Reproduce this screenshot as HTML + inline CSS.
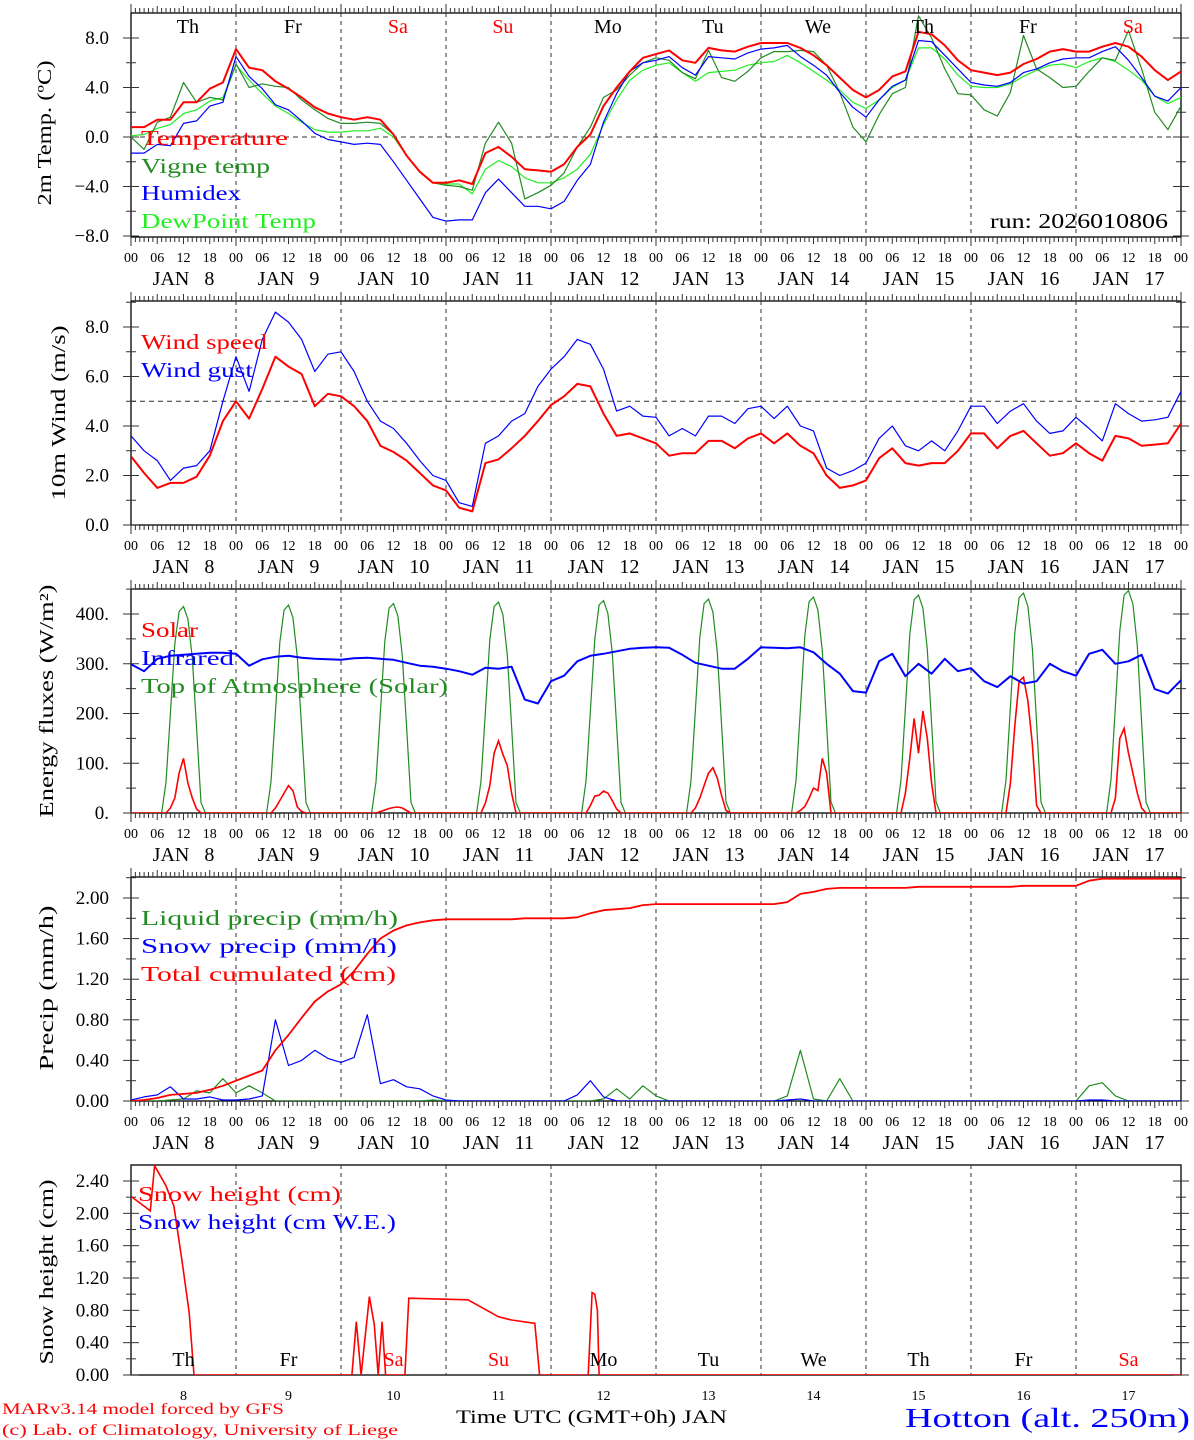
<!DOCTYPE html>
<html><head><meta charset="utf-8"><title>MAR forecast Hotton</title>
<style>
html,body{margin:0;padding:0;background:#fff;}
svg{display:block;font-family:"Liberation Serif",serif;}
</style></head>
<body>
<svg id="chart" xmlns="http://www.w3.org/2000/svg" width="1194" height="1440" viewBox="0 0 1194 1440">
<defs>
<clipPath id="c0"><rect x="131" y="13" width="1050" height="224"/></clipPath>
<clipPath id="c1"><rect x="131" y="301" width="1050" height="224"/></clipPath>
<clipPath id="c2"><rect x="131" y="589" width="1050" height="224"/></clipPath>
<clipPath id="c3"><rect x="131" y="877" width="1050" height="224"/></clipPath>
<clipPath id="c4"><rect x="131" y="1165" width="1050" height="210"/></clipPath>
</defs>
<g id="grid"></g>
<g id="series"></g>
<g id="labels">
<text x="141" y="145" fill="#ff0000" font-size="21" textLength="147" lengthAdjust="spacingAndGlyphs">Temperature</text>
<text x="141" y="173" fill="#228b22" font-size="21" textLength="129" lengthAdjust="spacingAndGlyphs">Vigne temp</text>
<text x="141" y="200" fill="#0000ff" font-size="21" textLength="100" lengthAdjust="spacingAndGlyphs">Humidex</text>
<text x="141" y="228" fill="#22ee22" font-size="21" textLength="175" lengthAdjust="spacingAndGlyphs">DewPoint Temp</text>
<text x="990" y="228" fill="#000" font-size="21" textLength="178" lengthAdjust="spacingAndGlyphs">run: 2026010806</text>
<text x="141" y="349" fill="#ff0000" font-size="21" textLength="126" lengthAdjust="spacingAndGlyphs">Wind speed</text>
<text x="141" y="377" fill="#0000ff" font-size="21" textLength="112" lengthAdjust="spacingAndGlyphs">Wind gust</text>
<text x="141" y="637" fill="#ff0000" font-size="21" textLength="57" lengthAdjust="spacingAndGlyphs">Solar</text>
<text x="141" y="665" fill="#0000ff" font-size="21" textLength="93" lengthAdjust="spacingAndGlyphs">Infrared</text>
<text x="141" y="693" fill="#228b22" font-size="21" textLength="307" lengthAdjust="spacingAndGlyphs">Top of Atmosphere (Solar)</text>
<text x="141" y="925" fill="#228b22" font-size="21" textLength="257" lengthAdjust="spacingAndGlyphs">Liquid precip (mm/h)</text>
<text x="141" y="953" fill="#0000ff" font-size="21" textLength="256" lengthAdjust="spacingAndGlyphs">Snow precip (mm/h)</text>
<text x="141" y="981" fill="#ff0000" font-size="21" textLength="255" lengthAdjust="spacingAndGlyphs">Total cumulated (cm)</text>
<text x="138" y="1201" fill="#ff0000" font-size="21" textLength="203" lengthAdjust="spacingAndGlyphs">Snow height (cm)</text>
<text x="138" y="1229" fill="#0000ff" font-size="21" textLength="258" lengthAdjust="spacingAndGlyphs">Snow height (cm W.E.)</text>
<text transform="translate(51,133) rotate(-90)" text-anchor="middle" font-size="20" fill="#000" textLength="145" lengthAdjust="spacingAndGlyphs">2m Temp. (ºC)</text>
<text transform="translate(65,413) rotate(-90)" text-anchor="middle" font-size="20" fill="#000" textLength="175" lengthAdjust="spacingAndGlyphs">10m Wind (m/s)</text>
<text transform="translate(53,701) rotate(-90)" text-anchor="middle" font-size="20" fill="#000" textLength="233" lengthAdjust="spacingAndGlyphs">Energy fluxes (W/m²)</text>
<text transform="translate(53,988) rotate(-90)" text-anchor="middle" font-size="20" fill="#000" textLength="165" lengthAdjust="spacingAndGlyphs">Precip (mm/h)</text>
<text transform="translate(53,1272) rotate(-90)" text-anchor="middle" font-size="20" fill="#000" textLength="185" lengthAdjust="spacingAndGlyphs">Snow height (cm)</text>
<text x="2" y="1414" fill="#ff0000" font-size="16" textLength="282" lengthAdjust="spacingAndGlyphs">MARv3.14 model forced by GFS</text>
<text x="2" y="1435" fill="#ff0000" font-size="16" textLength="396" lengthAdjust="spacingAndGlyphs">(c) Lab. of Climatology, University of Liege</text>
<text x="456" y="1423" fill="#000" font-size="19" textLength="271" lengthAdjust="spacingAndGlyphs">Time UTC (GMT+0h) JAN</text>
<text x="905" y="1427" fill="#0000ff" font-size="27" textLength="285" lengthAdjust="spacingAndGlyphs">Hotton (alt. 250m)</text>
</g>
</svg>
<script>
// ---- data (3-hourly from Jan 8 00 UTC, 81 points) ----
const dayNames = ["Th","Fr","Sa","Su","Mo","Tu","We","Th","Fr","Sa"];
const dayNums = ["8","9","10","11","12","13","14","15","16","17"];
const hourLabels = ["00","06","12","18"];
const tempVals = [0.8,0.8,1.4,1.4,2.8,2.8,3.9,4.4, 7.1,5.6,5.4,4.5,3.9,3.2,2.4,1.9, 1.6,1.4,1.6,1.4,0.2,-1.5,-2.8,-3.7, -3.7,-3.5,-3.8,-1.3,-0.8,-1.6,-2.6,-2.7, -2.8,-2.2,-0.8,0.2,2.5,4.0,5.3,6.4, 6.7,7.0,6.2,6.0,7.2,7.0,6.9,7.3, 7.6,7.6,7.6,7.2,6.6,5.8,4.8,3.8, 3.2,3.8,4.9,5.3,8.5,8.3,7.4,6.2, 5.4,5.2,5.0,5.2,5.9,6.3,6.9,7.1, 6.9,6.9,7.3,7.6,7.3,6.5,5.4,4.6, 5.3];
const vigneVals = [0.0,-1.0,1.2,1.6,4.4,2.8,3.2,3.0, 5.9,4.0,4.3,4.1,4.0,3.0,2.2,1.5, 1.1,1.1,1.2,1.1,0.2,-1.5,-2.8,-3.7, -3.9,-4.0,-4.3,-0.5,1.2,-0.5,-5.0,-4.5, -3.9,-2.9,-0.8,0.8,3.2,3.8,5.0,6.0, 6.4,6.2,5.2,4.7,7.0,4.8,4.5,5.3, 6.4,6.9,6.9,7.0,6.9,5.8,3.6,0.8, -0.4,1.8,3.5,4.0,9.8,8.0,5.5,3.5, 3.4,2.2,1.7,3.6,8.2,5.5,4.8,4.0, 4.1,5.3,6.4,6.2,8.6,5.5,2.0,0.6, 2.5];
const humidexVals = [-1.3,-1.3,-0.6,-0.7,1.1,1.3,2.5,2.8, 6.5,4.9,3.9,2.6,2.2,1.3,0.3,-0.2, -0.4,-0.6,-0.5,-0.6,-2.0,-3.5,-5.0,-6.5, -6.8,-6.7,-6.7,-4.5,-3.4,-4.5,-5.6,-5.6, -5.8,-5.2,-3.5,-2.2,1.2,3.5,5.3,6.0, 6.2,6.5,5.6,5.0,6.5,6.4,6.3,6.8, 7.1,7.2,7.4,6.5,5.8,5.0,3.6,2.4, 1.6,3.0,4.1,4.6,7.8,7.7,6.6,5.5, 4.4,4.2,4.1,4.4,5.2,5.5,6.0,6.3, 6.4,6.4,6.9,7.3,6.2,4.8,3.3,2.9, 4.0];
const dewVals = [0.1,0.2,0.7,1.0,1.9,2.2,2.9,3.2, 5.8,4.6,3.5,2.5,1.9,1.2,0.6,0.4, 0.4,0.5,0.5,0.7,0.0,-1.5,-2.8,-3.7, -3.8,-3.8,-4.6,-2.6,-1.9,-2.4,-3.3,-3.7, -3.7,-3.3,-2.6,-1.4,1.0,3.0,4.6,5.4, 5.8,6.0,5.2,4.5,5.2,5.3,5.4,5.8, 6.0,6.1,6.6,6.0,5.3,4.6,3.8,2.8, 2.3,3.0,4.0,4.6,7.2,7.2,6.3,5.0, 4.1,4.0,4.0,4.3,4.9,5.4,5.8,5.9, 5.6,6.1,6.4,6.1,5.4,4.6,3.3,2.7, 3.2];
const windVals = [2.77,2.1,1.5,1.7,1.7,1.95,2.8,4.2, 5.0,4.3,5.5,6.8,6.4,6.1,4.8,5.3, 5.2,4.8,4.2,3.2,2.95,2.6,2.1,1.6, 1.4,0.7,0.55,2.5,2.65,3.1,3.6,4.2, 4.85,5.2,5.7,5.6,4.5,3.6,3.7,3.5, 3.3,2.8,2.9,2.9,3.4,3.4,3.1,3.5, 3.7,3.3,3.7,3.2,2.9,2.0,1.5,1.6, 1.8,2.7,3.1,2.5,2.4,2.5,2.5,3.0, 3.7,3.7,3.1,3.6,3.8,3.3,2.8,2.9, 3.3,2.9,2.6,3.6,3.5,3.2,3.25,3.3, 4.1];
const gustVals = [3.6,3.0,2.6,1.8,2.3,2.4,3.0,5.0, 6.8,5.4,7.5,8.6,8.2,7.5,6.2,6.9, 7.0,6.2,5.0,4.2,3.9,3.3,2.6,2.0, 1.8,0.9,0.75,3.3,3.6,4.2,4.5,5.6, 6.3,6.8,7.5,7.3,6.3,4.6,4.8,4.4, 4.35,3.6,3.9,3.6,4.4,4.4,4.1,4.7, 4.8,4.3,4.8,4.0,3.8,2.3,2.0,2.2, 2.5,3.5,4.0,3.2,3.0,3.4,3.0,3.8, 4.8,4.8,4.1,4.6,4.9,4.2,3.7,3.8, 4.35,3.9,3.4,4.9,4.5,4.2,4.25,4.35, 5.4];
const infraredVals = [299,285,310,316,318,320,322,322, 320,296,309,314,316,312,310,309, 308,311,312,310,308,302,296,294, 290,285,278,292,290,294,228,220, 265,276,305,316,320,325,330,332, 333,332,318,302,296,290,290,310, 333,332,331,333,323,300,280,245, 242,305,320,275,300,280,310,285, 291,265,253,275,260,265,300,285, 276,320,328,300,305,318,249,240, 267];
// hourly daylight values, hours 7..17 of each day
const daylightHours = [7,8,9,10,11,12,13,14,15,16,17];
const solarByDay = [
 [0,0,10,30,80,110,60,30,8,0,0],
 [0,0,10,25,40,55,45,12,3,0,0],
 [0,0,3,6,9,11,12,10,5,0,0],
 [0,0,20,55,120,145,118,95,40,0,0],
 [0,0,15,34,36,44,40,25,8,0,0],
 [0,0,10,30,55,80,91,70,35,5,0],
 [0,0,5,13,30,50,45,110,80,0,0],
 [0,0,40,110,190,120,205,150,60,0,0],
 [0,0,60,175,265,273,225,140,15,0,0],
 [0,0,30,150,170,120,80,40,10,0,0]];
const toaByDay = [
 [0,62,200,340,405,415,390,312,170,21,0],
 [0,63,202,343,408,418,393,314,171,21,0],
 [0,63,203,345,412,421,396,316,173,21,0],
 [0,64,204,348,415,424,399,318,174,21,0],
 [0,64,206,350,418,427,401,321,175,21,0],
 [0,65,207,353,421,430,404,323,176,22,0],
 [0,65,209,356,425,434,408,326,178,22,0],
 [0,66,211,359,429,438,412,329,180,22,0],
 [0,66,213,362,433,442,415,332,181,22,0],
 [0,67,215,366,438,447,420,336,183,22,0]];
const liquidVals = [0,0,0,0.01,0.02,0.10,0.08,0.22, 0.08,0.15,0.08,0,0,0,0,0, 0,0,0,0,0,0,0,0.01, 0,0,0,0,0,0,0,0, 0,0,0,0,0.02,0.12,0.02,0.15, 0.05,0,0,0,0,0,0,0, 0,0,0.05,0.50,0.02,0,0.22,0, 0,0,0,0,0,0,0,0, 0,0,0,0,0,0,0,0, 0,0.15,0.18,0.05,0,0,0,0, 0];
const snowPrecipVals = [0.01,0.04,0.06,0.14,0.02,0.02,0.04,0.01, 0.01,0.02,0.05,0.80,0.35,0.40,0.50,0.42, 0.38,0.43,0.85,0.17,0.21,0.14,0.12,0.05, 0.01,0,0,0,0,0,0,0, 0,0,0.06,0.20,0.04,0,0,0, 0,0,0,0,0,0,0,0, 0,0,0.01,0.02,0,0,0,0, 0,0,0,0,0,0,0,0, 0,0,0,0,0,0,0,0, 0,0.01,0.01,0,0,0,0,0, 0];
const cumulVals = [0,0.01,0.03,0.06,0.07,0.08,0.11,0.15, 0.20,0.25,0.30,0.50,0.65,0.82,0.98,1.08, 1.15,1.28,1.45,1.60,1.68,1.73,1.76,1.78, 1.79,1.79,1.79,1.79,1.79,1.79,1.80,1.80, 1.80,1.80,1.81,1.85,1.88,1.89,1.90,1.93, 1.94,1.94,1.94,1.94,1.94,1.94,1.94,1.94, 1.94,1.94,1.96,2.04,2.06,2.09,2.10,2.10, 2.10,2.10,2.10,2.10,2.11,2.11,2.11,2.11, 2.11,2.11,2.11,2.11,2.12,2.12,2.12,2.12, 2.12,2.17,2.19,2.19,2.19,2.19,2.19,2.19, 2.19];
const snowHours = [0,3,4.4,5.4,8,9.8,11.6,13.3,14.4,50.5,51.5,52.6,54.5,55.6,56.5,57.4,58.2,62.6,63.5,77,84,87,92.3,93.4,104.5,105.4,106,106.6,107,240];
const snowHeightVals = [2.21,2.09,2.03,2.59,2.34,2.09,1.43,0.77,0,0,0.66,0,0.97,0.62,0,0.66,0,0,0.95,0.93,0.72,0.68,0.64,0,0,1.02,1.0,0.8,0,0];
const yTicks = [
 {vals:[8,4,0,-4,-8], labels:["8.0","4.0","0.0","\u22124.0","\u22128.0"], minor:[6,2,-2,-6]},
 {vals:[0,2,4,6,8], labels:["0.0","2.0","4.0","6.0","8.0"], minor:[1,3,5,7,9]},
 {vals:[0,100,200,300,400], labels:["0.","100.","200.","300.","400."], minor:[50,150,250,350,450]},
 {vals:[0,0.4,0.8,1.2,1.6,2.0], labels:["0.00","0.40","0.80","1.20","1.60","2.00"], minor:[0.2,0.6,1.0,1.4,1.8,2.2]},
 {vals:[0,0.4,0.8,1.2,1.6,2.0,2.4], labels:["0.00","0.40","0.80","1.20","1.60","2.00","2.40"], minor:[0.2,0.6,1.0,1.4,1.8,2.2]}];

// ---- layout ----
const NS = "http://www.w3.org/2000/svg";
const X0 = 131, X1 = 1181, PXH = (X1 - X0) / 240;
const panels = [
 {top:13, bot:237, y0:137, k:12.375},
 {top:301, bot:525, y0:525, k:24.75},
 {top:589, bot:813, y0:813, k:0.4975},
 {top:877, bot:1101, y0:1101, k:101.5},
 {top:1165, bot:1375, y0:1375, k:80.83}];
function xs(h){ return X0 + h * PXH; }
function ys(p, v){ return panels[p].y0 - v * panels[p].k; }
const grid = document.getElementById('grid');
const series = document.getElementById('series');
const labels = document.getElementById('labels');
function el(tag, attrs, parent){
  const e = document.createElementNS(NS, tag);
  for (const a in attrs) e.setAttribute(a, attrs[a]);
  parent.appendChild(e);
  return e;
}
function line(x1,y1,x2,y2,stroke,w,dash){
  const a = {x1:x1,y1:y1,x2:x2,y2:y2,stroke:stroke,'stroke-width':w};
  if (dash) a['stroke-dasharray'] = dash;
  return el('line', a, grid);
}
function txt(x,y,s,size,fill,anchor){
  const t = el('text', {x:x,y:y,'font-size':size,fill:fill,'text-anchor':anchor||'middle'}, labels);
  t.textContent = s;
  return t;
}

panels.forEach((P, p) => {
  let f = el('rect', {x:X0, y:P.top, width:X1-X0, height:P.bot-P.top, fill:'none', stroke:'#000', 'stroke-width':1.3}, grid);
  
  
  for (let d = 1; d < 10; d++){
    const l = line(xs(d*24), P.top, xs(d*24), P.bot, '#333', 1, '4,4');
    
    
  }
  if (p < 4){
    for (let h = 0; h <= 240; h++){
      const len = (h % 24 === 0) ? 9 : (h % 6 === 0 ? 7 : 5);
      const t1 = line(xs(h), P.top, xs(h), P.top - len, '#333', 1);
      
      
      const t2 = line(xs(h), P.bot, xs(h), P.bot + len, '#333', 1);
      
      
    }
    for (let h = 0; h <= 240; h += 6){
      const t = txt(xs(h), P.bot + 25, hourLabels[(h/6)%4], 14, '#000');
      
      
    }
    for (let d = 0; d < 10; d++){
      const t = txt(xs(d*24+12), P.bot + 48, 'JAN\u00a0\u00a0\u00a0' + dayNums[d], 20, '#000');
      
      
    }
  }
  const T = yTicks[p];
  T.vals.forEach((v, i) => {
    const y = ys(p, v);
    const a = line(X0-8, y, X0+8, y, '#333', 1);
    
    
    const b = line(X1-8, y, X1+8, y, '#333', 1);
    
    
    const t = txt(109, y + 6, T.labels[i], 19, '#000', 'end');
    
    
  });
  T.minor.forEach(v => {
    const y = ys(p, v);
    if (y < P.top - 1) return;
    const a = line(X0-5, y, X0+5, y, '#333', 1);
    
    
    const b = line(X1-5, y, X1+5, y, '#333', 1);
    
    
  });
});
const zl = line(X0, ys(0,0), X1, ys(0,0), '#333', 1, '5,4');


const fl = line(X0, ys(1,5), X1, ys(1,5), '#333', 1, '5,4');


for (let d = 0; d < 10; d++){
  const col = (dayNames[d] === 'Sa' || dayNames[d] === 'Su') ? '#ff0000' : '#000';
  const t = txt(xs(d*24+13), 33, dayNames[d], 20, col);
  
  
  const t2 = txt(xs(d*24+12), 1366, dayNames[d], 20, col);
  
  
  const t3 = txt(xs(d*24+12), 1400, dayNums[d], 14, '#000');
  
  
}

function poly3h(p, vals, color, w){
  const pts = vals.map((v, i) => xs(i*3).toFixed(1) + ',' + ys(p, v).toFixed(1)).join(' ');
  return el('polyline', {points:pts, fill:'none', stroke:color, 'stroke-width':w, 'stroke-linejoin':'round', 'clip-path':'url(#c'+p+')'}, series);
}
function polyDaily(p, rows, color, w){
  const pts = [];
  pts.push(xs(0) + ',' + ys(p, 0));
  rows.forEach((row, d) => {
    row.forEach((v, j) => { pts.push(xs(d*24 + daylightHours[j]).toFixed(1) + ',' + ys(p, v).toFixed(1)); });
  });
  pts.push(xs(240) + ',' + ys(p, 0));
  return el('polyline', {points:pts.join(' '), fill:'none', stroke:color, 'stroke-width':w, 'clip-path':'url(#c'+p+')'}, series);
}

let s;
s = poly3h(0, dewVals, '#22ee22', 1.2);


s = poly3h(0, vigneVals, '#228b22', 1.2);


s = poly3h(0, humidexVals, '#0000ff', 1.2);


s = poly3h(0, tempVals, '#ff0000', 2);


s = poly3h(1, gustVals, '#0000ff', 1.2);


s = poly3h(1, windVals, '#ff0000', 2);


s = polyDaily(2, toaByDay, '#228b22', 1.2);


s = polyDaily(2, solarByDay, '#ff0000', 1.6);


s = poly3h(2, infraredVals, '#0000ff', 2);


s = poly3h(3, liquidVals, '#228b22', 1.2);


s = poly3h(3, snowPrecipVals, '#0000ff', 1.2);


s = poly3h(3, cumulVals, '#ff0000', 1.8);


const snowPts = snowHours.map((h, i) => xs(h).toFixed(1) + ',' + ys(4, snowHeightVals[i]).toFixed(1)).join(' ');
s = el('polyline', {points:snowPts, fill:'none', stroke:'#ff0000', 'stroke-width':1.6, 'clip-path':'url(#c4)'}, series);


</script>
</body></html>
